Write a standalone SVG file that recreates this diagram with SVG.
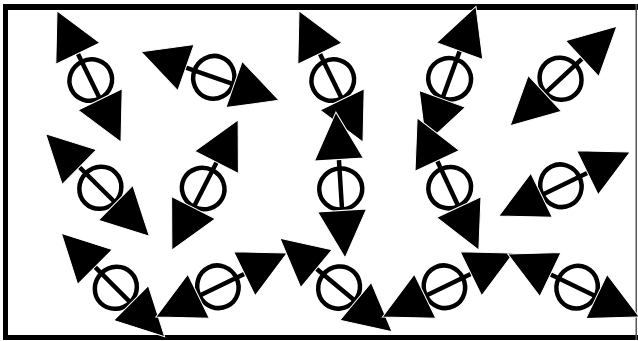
<svg xmlns="http://www.w3.org/2000/svg" width="638" height="341" viewBox="0 0 638 341">
<style>
.ln{stroke:#000;stroke-width:4.5}
.ring{fill:none;stroke:#000;stroke-width:4.5}
.tri{fill:#000;stroke:#fff;stroke-width:1;stroke-linejoin:miter}
.frame{fill:#000}
</style>
<defs>
<g id="dipole">
<line class="ln" x1="-27" y1="0" x2="27" y2="0"/>
<ellipse class="ring" cx="4" cy="0" rx="20.5" ry="21.5"/>
<polygon class="tri" points="25.5,-24.5 73,0 25.5,24.5"/>
<polygon class="tri" points="-25.5,-24.5 -73,0 -25.5,24.5"/>
</g>
</defs>
<rect width="638" height="341" fill="#fff"/>
<g id="frame">
<rect class="frame" x="3" y="4" width="635" height="6"/>
<rect class="frame" x="3" y="4" width="5" height="336"/>
<rect class="frame" x="3" y="335" width="635" height="5"/>
<rect x="635.5" y="4" width="1.5" height="336" fill="#555"/>
</g>
<g id="s1" transform="translate(89,76.5) rotate(64)"><use href="#dipole"/></g>
<g id="s2" transform="translate(210,76) rotate(19.4)"><use href="#dipole"/></g>
<g id="s3" transform="translate(331,76.5) rotate(64)"><use href="#dipole"/></g>
<g id="s4" transform="translate(451,75) rotate(110)"><use href="#dipole"/></g>
<g id="s5" transform="translate(563.5,76) rotate(137)"><use href="#dipole"/></g>
<g id="s6" transform="translate(97.5,185) rotate(44.7)"><use href="#dipole"/></g>
<g id="s7" transform="translate(205,185) rotate(117)"><use href="#dipole"/></g>
<g id="s8" transform="translate(340.5,185) rotate(86.4)"><use href="#dipole"/></g>
<g id="s9" transform="translate(448,184) rotate(65)"><use href="#dipole"/></g>
<g id="s10" transform="translate(564.5,184) rotate(154)"><use href="#dipole"/></g>
<g id="s11" transform="translate(113,285) rotate(45)"><use href="#dipole"/></g>
<g id="s12" transform="translate(221.5,285) rotate(154)"><use href="#dipole"/></g>
<g id="s13" transform="translate(336,285) rotate(39.8)"><use href="#dipole"/></g>
<g id="s14" transform="translate(448,285) rotate(154)"><use href="#dipole"/></g>
<g id="s15" transform="translate(573.5,285.5) rotate(25.6)"><use href="#dipole"/></g>
</svg>
